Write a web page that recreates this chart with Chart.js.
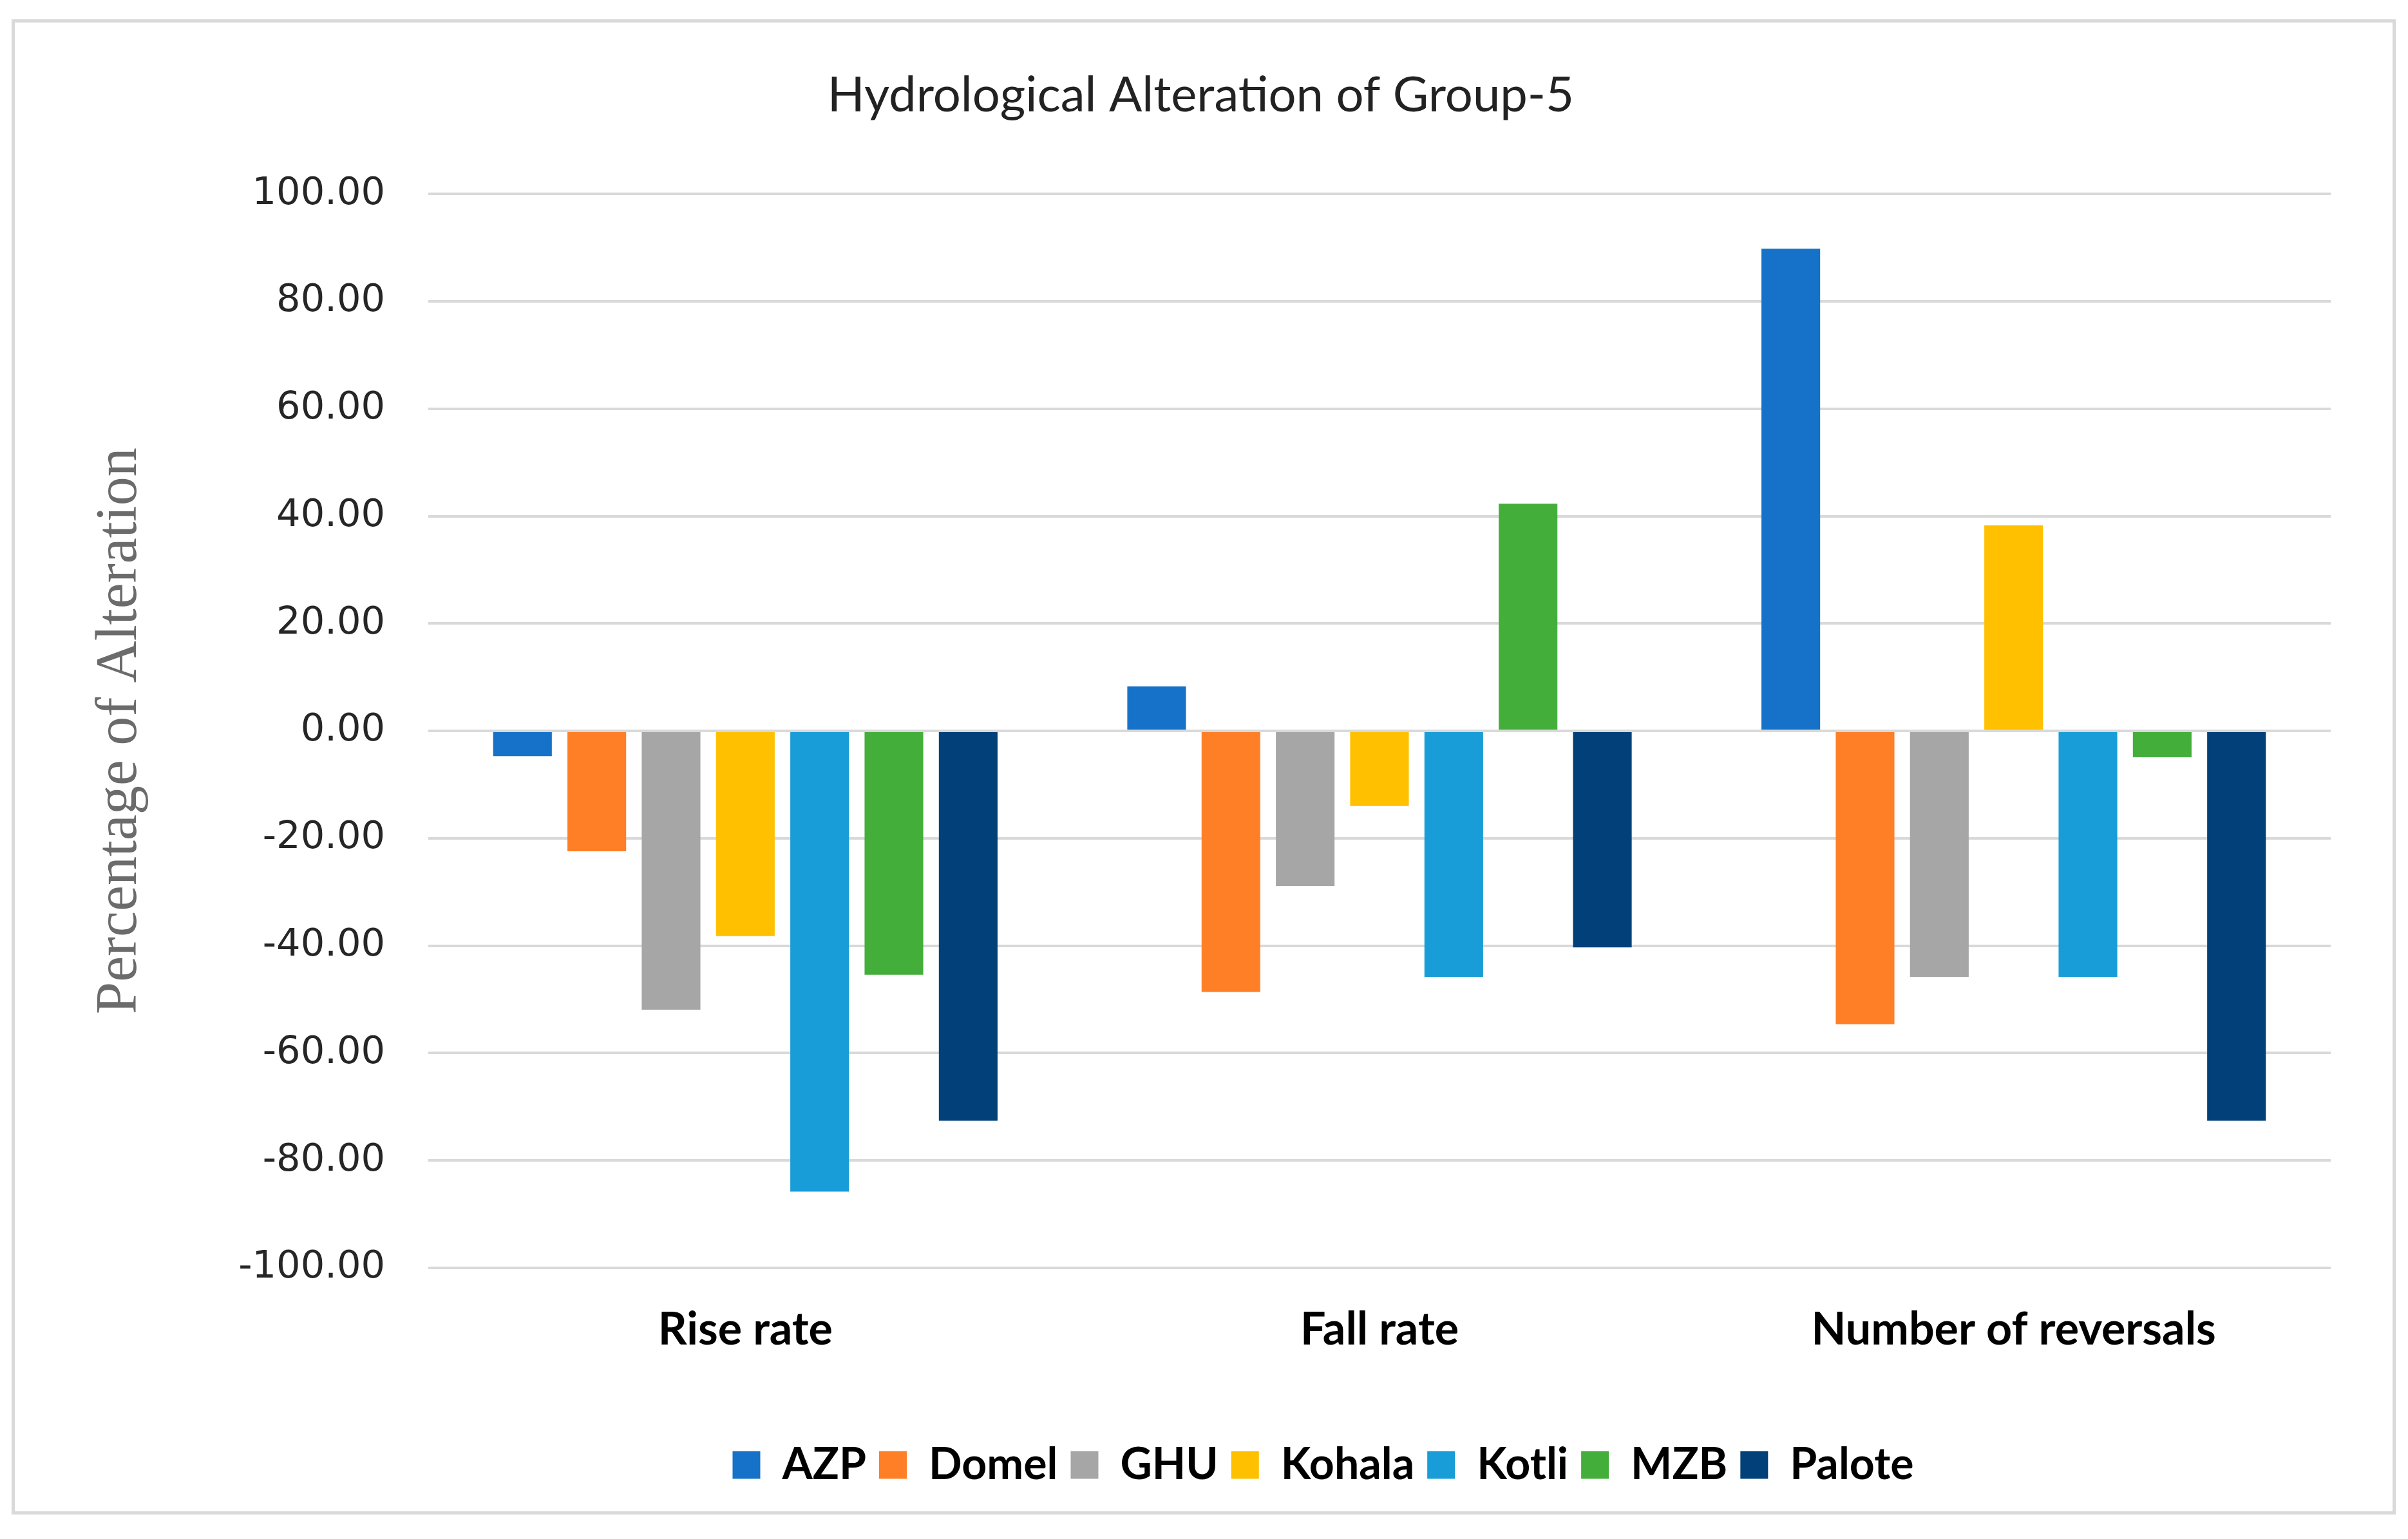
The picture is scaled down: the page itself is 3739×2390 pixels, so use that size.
<!DOCTYPE html>
<html>
<head>
<meta charset="utf-8">
<script src="https://cdn.jsdelivr.net/npm/chart.js@4.4.0/dist/chart.umd.min.js"></script>
<style>
  html, body { margin: 0; padding: 0; background: #fff; }
  #frame {
    position: absolute; left: 18px; top: 30px; width: 3702px; height: 2322px;
    border: 5px solid #d9d9d9; box-sizing: border-box;
  }
  #wrap { position: absolute; left: 0; top: 0; width: 3739px; height: 2390px; }
</style>
</head>
<body>
<div id="frame"></div>
<div id="wrap"><canvas id="myChart"></canvas></div>
<script>
// categorii si serii
var categories = ["Rise rate", "Fall rate", "Number of reversals"];
var stations = ["AZP", "Domel", "GHU", "Kohala", "Kotli", "MZB", "Palote"];
var azp    = [-4.7, 8.3, 89.8];
var domel  = [-22.4, -48.6, -54.6];
var ghu    = [-51.9, -28.9, -45.8];
var kohala = [-38.2, -14.0, 38.3];
var kotli  = [-85.8, -45.8, -45.8];
var mzb    = [-45.4, 42.3, -4.9];
var palote = [-72.6, -40.3, -72.6];
var yTicks = [-100, -80, -60, -40, -20, 0, 20, 40, 60, 80, 100];

var seriesValues = [azp, domel, ghu, kohala, kotli, mzb, palote];
var barColors = ["#1572c8", "#ff7f27", "#a6a6a6", "#ffc000", "#189dd8", "#44ae3b", "#014078"];

var datasets = stations.map(function (name, i) {
  return {
    label: name,
    data: seriesValues[i],
    backgroundColor: barColors[i],
    borderWidth: 0,
    categoryPercentage: 0.82,
    barPercentage: 0.79
  };
});

// mutare titlu si legenda pe orizontala (ca in Excel)
var shiftBoxes = {
  id: "shiftBoxes",
  afterLayout: function (chart) {
    var move = function (box, dx) {
      if (!box) return;
      box.left += dx;
      box.right += dx;
    };
    move(chart.titleBlock, 55);
    move(chart.legend, 245);
  }
};

new Chart("myChart", {
  type: "bar",
  data: { labels: categories, datasets: datasets },
  plugins: [shiftBoxes],
  options: {
    responsive: true,
    maintainAspectRatio: false,
    animation: false,
    devicePixelRatio: 1,
    layout: { padding: { left: 0, right: 120, top: 0, bottom: 71 } },
    plugins: {
      title: {
        display: true,
        text: "Hydrological Alteration of Group-5",
        color: "#222",
        font: { family: "Lato", size: 76, weight: "normal" },
        padding: { top: 103, bottom: 107 }
      },
      legend: {
        position: "bottom",
        labels: {
          color: "#000",
          font: { family: "Lato", size: 68, weight: "bold" },
          boxWidth: 43,
          boxHeight: 43,
          padding: 20
        }
      },
      tooltip: { enabled: false }
    },
    scales: {
      x: {
        grid: { display: false, drawTicks: false },
        border: { display: false },
        ticks: {
          color: "#000",
          font: { family: "Lato", size: 70, weight: "bold" },
          padding: 54,
          maxRotation: 0
        },
        afterFit: function (s) { s.height = 252; }
      },
      y: {
        min: -100,
        max: 100,
        afterBuildTicks: function (s) {
          s.ticks = yTicks.map(function (v) { return { value: v }; });
        },
        grid: { color: "#d9d9d9", lineWidth: 4, drawTicks: false },
        border: { display: false },
        ticks: {
          color: "#262626",
          font: { family: "DejaVu Sans", size: 59 },
          padding: 67,
          callback: function (v) { return Number(v).toFixed(2); }
        },
        title: {
          display: true,
          text: "Percentage of Alteration",
          color: "#6b6b6b",
          font: { family: "Liberation Serif", size: 90 },
          padding: { top: 133, bottom: 0 }
        },
        afterFit: function (s) { s.width = 665; }
      }
    }
  }
});
</script>
</body>
</html>
